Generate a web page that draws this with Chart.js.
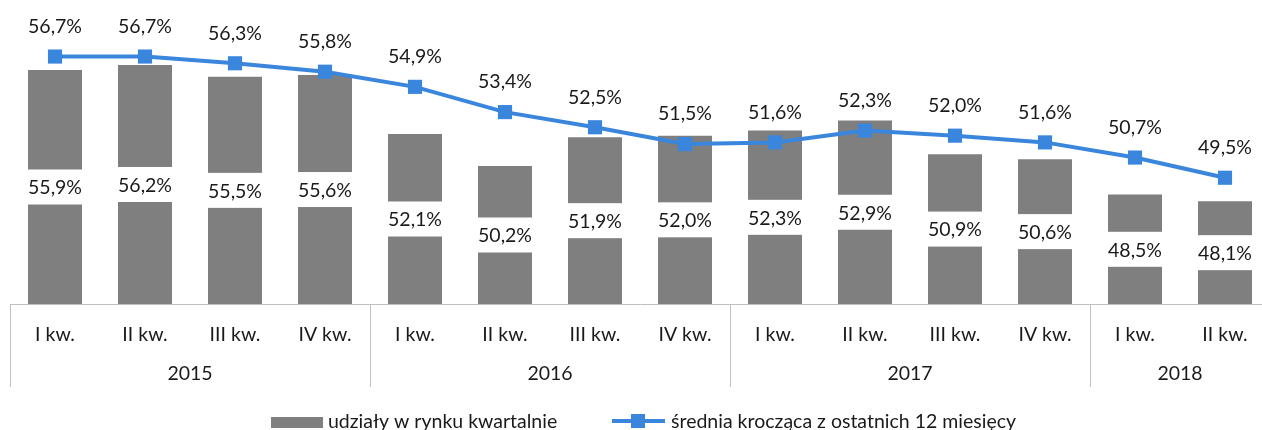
<!DOCTYPE html>
<html>
<head>
<meta charset="utf-8">
<script src="https://cdn.jsdelivr.net/npm/chart.js@4/dist/chart.umd.min.js"></script>
<style>
  html, body { margin: 0; padding: 0; background: #fff; overflow: hidden; }
  #wrap { width: 1262px; height: 430px; overflow: hidden; }
</style>
</head>
<body>
<div id="wrap"><canvas id="udzialy" width="1272" height="430"></canvas></div>
<script>
// dane
var quarters = ['I kw.', 'II kw.', 'III kw.', 'IV kw.', 'I kw.', 'II kw.', 'III kw.', 'IV kw.',
                'I kw.', 'II kw.', 'III kw.', 'IV kw.', 'I kw.', 'II kw.'];
var years = ['2015', '2016', '2017', '2018'];
var yearSpans = [4, 4, 4, 2];
var shares = [55.9, 56.2, 55.5, 55.6, 52.1, 50.2, 51.9, 52.0, 52.3, 52.9, 50.9, 50.6, 48.5, 48.1];
var movingAvg = [56.7, 56.7, 56.3, 55.8, 54.9, 53.4, 52.5, 51.5, 51.6, 52.3, 52.0, 51.6, 50.7, 49.5];

var FAMILY = 'Lato, "Open Sans", sans-serif';
var FONT = '19.5px ' + FAMILY;
var TEXT = '#1a1a1a';
var GRAY = '#7f7f7f';
var BLUE = '#3a86dd';
var AXIS = '#bfbfbf';

function fmt(v) {
    return v.toFixed(1).replace('.', ',') + '%';
}

var labelPlugin = {
    id: 'valueLabels',
    afterDatasetsDraw: function(chart) {
        var ctx = chart.ctx;
        var bottom = chart.chartArea.bottom;
        var bars = chart.getDatasetMeta(0);
        var line = chart.getDatasetMeta(1);
        ctx.save();
        ctx.font = FONT;
        ctx.textAlign = 'center';
        ctx.textBaseline = 'middle';
        // etykiety słupków na białym tle, w połowie widocznej wysokości
        bars.data.forEach(function(bar, i) {
            var mid = (bar.y + bottom) / 2;
            ctx.fillStyle = '#fff';
            ctx.fillRect(bar.x - bar.width / 2 - 1, mid - 17.5, bar.width + 2, 35);
            ctx.fillStyle = TEXT;
            ctx.fillText(fmt(chart.data.datasets[0].data[i]), bar.x, mid + 1);
        });
        // etykiety średniej nad punktami
        line.data.forEach(function(pt, i) {
            ctx.fillStyle = TEXT;
            ctx.fillText(fmt(chart.data.datasets[1].data[i]), pt.x, pt.y - 30);
        });
        ctx.restore();
    },
    afterDraw: function(chart) {
        var ctx = chart.ctx;
        var x = chart.scales.x;
        var area = chart.chartArea;
        var step = x.getPixelForValue(1) - x.getPixelForValue(0);
        ctx.save();
        // separatory grup i lata
        ctx.strokeStyle = AXIS;
        ctx.lineWidth = 1;
        ctx.font = FONT;
        ctx.fillStyle = TEXT;
        ctx.textAlign = 'center';
        ctx.textBaseline = 'middle';
        var start = 0;
        years.forEach(function(y, g) {
            var end = start + yearSpans[g] - 1;
            var left = x.getPixelForValue(start) - step / 2;
            ctx.beginPath();
            ctx.moveTo(Math.round(left) + 0.5, area.bottom);
            ctx.lineTo(Math.round(left) + 0.5, 387);
            ctx.stroke();
            ctx.fillText(y, (x.getPixelForValue(start) + x.getPixelForValue(end)) / 2, 374);
            start = end + 1;
        });
        // legenda
        ctx.textAlign = 'left';
        ctx.fillStyle = GRAY;
        ctx.fillRect(271, 417, 52, 11);
        ctx.fillStyle = TEXT;
        ctx.fillText(chart.data.datasets[0].label, 328, 422);
        ctx.strokeStyle = BLUE;
        ctx.lineWidth = 4;
        ctx.beginPath();
        ctx.moveTo(612, 421);
        ctx.lineTo(665, 421);
        ctx.stroke();
        ctx.fillStyle = BLUE;
        ctx.fillRect(631, 414, 14, 14);
        ctx.fillStyle = TEXT;
        ctx.fillText(chart.data.datasets[1].label, 671, 422);
        ctx.restore();
    }
};

var config = {
    type: 'bar',
    data: {
        labels: quarters,
        datasets: [{
            type: 'bar',
            label: 'udziały w rynku kwartalnie',
            data: shares,
            backgroundColor: GRAY,
            borderWidth: 0,
            categoryPercentage: 1,
            barPercentage: 0.6,
            order: 2
        }, {
            type: 'line',
            label: 'średnia krocząca z ostatnich 12 miesięcy',
            data: movingAvg,
            borderColor: BLUE,
            backgroundColor: BLUE,
            borderWidth: 4,
            pointStyle: 'rect',
            pointRadius: 10,
            pointBorderWidth: 0,
            tension: 0,
            order: 1
        }]
    },
    options: {
        responsive: false,
        animation: false,
        layout: {
            autoPadding: false,
            padding: { left: 10, right: 2, top: 1, bottom: 66 }
        },
        plugins: {
            legend: { display: false },
            tooltip: { enabled: false }
        },
        scales: {
            y: {
                display: false,
                min: 42,
                max: 60
            },
            x: {
                grid: { display: false },
                border: { display: true, color: AXIS, width: 1 },
                ticks: {
                    font: { family: FAMILY, size: 19.5 },
                    color: TEXT,
                    padding: 11,
                    maxRotation: 0,
                    autoSkip: false
                },
                afterFit: function(s) { s.height = 60; }
            }
        }
    },
    plugins: [labelPlugin]
};

window.onload = function() {
    var ctx = document.getElementById('udzialy').getContext('2d');
    window.myChart = new Chart(ctx, config);
};
</script>
</body>
</html>
